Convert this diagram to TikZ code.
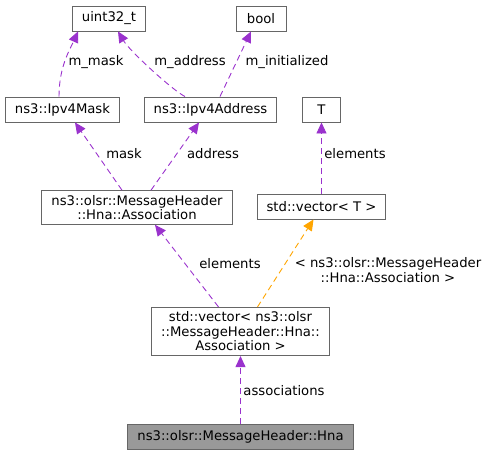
\documentclass[tikz,border=0pt]{standalone}
\usepackage{fontspec}
\setmainfont{DejaVu Sans}
\usetikzlibrary{arrows.meta}
\definecolor{edgepurple}{HTML}{9A32CD}
\definecolor{edgeorange}{HTML}{FFA500}
\definecolor{boxgray}{HTML}{666666}
\definecolor{hnagray}{HTML}{999999}
\begin{document}
\begin{tikzpicture}[x=1pt, y=-1pt,
  every node/.style={font=\fontsize{13.2}{14.5}\selectfont},
  cls/.style={draw=boxgray, fill=white, line width=0.9pt, inner xsep=9.5pt, inner ysep=4.5pt, minimum height=25pt, align=center},
  edge/.style={draw=edgepurple, dashed, dash pattern=on 6pt off 4pt, line width=0.9pt, -{Triangle[width=10pt,length=11pt]}},
  tedge/.style={edge, draw=edgeorange},
  lbl/.style={inner sep=1pt, align=center}]

\useasboundingbox (0,0) rectangle (485,456);

% classes
\node[cls] (uint) at (109,18.5) {uint32\_t};
\node[cls, minimum width=50pt] (bool) at (261,18.5) {bool};
\node[cls] (mask) at (62.5,109.5) {ns3::Ipv4Mask};
\node[cls] (addr) at (210.5,109.5) {ns3::Ipv4Address};
\node[cls, minimum width=38pt] (T) at (321.5,109.5) {T};
\node[cls] (assoc) at (137,207.5) {ns3::olsr::MessageHeader\\::Hna::Association};
\node[cls] (vecT) at (321.5,206.5) {std::vector< T >};
\node[cls] (vecA) at (240.5,331.5) {std::vector< ns3::olsr\\::MessageHeader::Hna::\\Association >};
\node[cls, fill=hnagray] (hna) at (240.5,436.5) {ns3::olsr::MessageHeader::Hna};

% members
\draw[edge] ([xshift=-3.5pt]mask.north) .. controls +(0,-30) and +(-8,18) .. ([xshift=-31pt]uint.south);
\draw[edge] ([xshift=-25.5pt]addr.north) .. controls +(-12,-6) and +(12,20) .. ([xshift=9pt]uint.south);
\draw[edge] ([xshift=9.5pt]addr.north) -- ([xshift=-10pt]bool.south);
\draw[edge] ([xshift=-15pt]assoc.north) -- ([xshift=12.5pt]mask.south);
\draw[edge] ([xshift=14pt]assoc.north) -- ([xshift=-11.5pt]addr.south);
\draw[edge] (vecT.north) -- (T.south);
\draw[edge] ([xshift=-22pt]vecA.north) -- ([xshift=18pt]assoc.south);
\draw[tedge] ([xshift=17pt]vecA.north) -- ([xshift=-8pt]vecT.south);
\draw[edge] (hna.north) -- (vecA.south);

% labels
\node[lbl] (lmmask) at (96,62) {m\_mask};
\node[lbl] (lmaddr) at (190,62) {m\_address};
\node[lbl] (lminit) at (287,62) {m\_initialized};
\node[lbl] (lmask) at (124,154) {mask};
\node[lbl] (laddr) at (213,154) {address};
\node[lbl] (lelT) at (355,154) {elements};
\node[lbl] (lelA) at (230,264) {elements};
\node[lbl] (ltmpl) at (388,270) {< ns3::olsr::MessageHeader\\::Hna::Association >};
\node[lbl] (lassoc) at (284,391) {associations};

\end{tikzpicture}
\end{document}
